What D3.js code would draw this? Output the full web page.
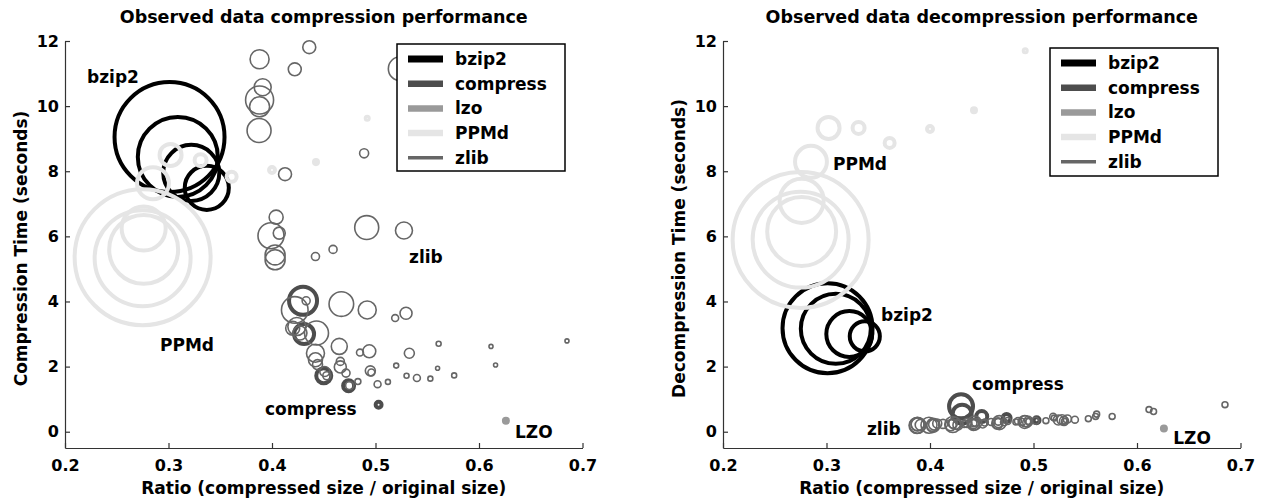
<!DOCTYPE html>
<html>
<head>
<meta charset="utf-8">
<script src="https://cdn.jsdelivr.net/npm/d3@7"></script>
<style>
  body { margin: 0; background: #fff; }
  svg text { font-family: "DejaVu Sans", sans-serif; font-weight: bold; fill: #000; }
</style>
</head>
<body>
<svg id="chart" width="1261" height="500"></svg>
<script>
// ---- data (ratio, seconds, memory in MB) ----
const tools = ['bzip2', 'compress', 'lzo', 'PPMd', 'zlib'];
const xTicks = [0.2, 0.3, 0.4, 0.5, 0.6, 0.7];
const yTicks = [0, 2, 4, 6, 8, 10, 12];

const bzip2Ratio = [0.301, 0.309, 0.322, 0.337];
const bzip2Comp = [9.05, 8.44, 7.95, 7.49];
const bzip2Decomp = [3.18, 3.16, 3.0, 2.93];
const bzip2CompMem = [65.4, 34.6, 17, 10.5];
const bzip2DecompMem = [43.8, 26.5, 11.4, 4.9];

const compressRatio = [0.43, 0.431, 0.45, 0.474, 0.503];
const compressComp = [4.02, 3.0, 1.72, 1.41, 0.83];
const compressDecomp = [0.78, 0.54, 0.47, 0.42, 0.35];
const compressCompMem = [4.24, 2.16, 1.22, 0.65, 0.19];
const compressDecompMem = [3.11, 1.95, 0.65, 0.35, 0.19];

const lzoRatio = [0.626];
const lzoComp = [0.34];
const lzoDecomp = [0.1];
const lzoCompMem = [0.087];
const lzoDecompMem = [0.087];

const ppmdRatio = [0.275, 0.275, 0.276, 0.276, 0.285, 0.302, 0.331, 0.361, 0.40, 0.4425, 0.492];
const ppmdComp = [5.36, 5.33, 5.6, 6.24, 7.63, 8.5, 8.34, 7.83, 8.04, 8.28, 9.63];
const ppmdDecomp = [5.89, 5.9, 6.15, 7.09, 8.29, 9.33, 9.33, 8.87, 9.3, 9.87, 11.7];
const ppmdCompMem = [100, 49.8, 25.7, 10.5, 5.5, 2.62, 0.78, 0.54, 0.19, 0.087, 0.049];
const ppmdDecompMem = [100, 49.8, 25.7, 10.5, 5.5, 2.62, 0.78, 0.54, 0.19, 0.087, 0.049];

const zlibRatio = [0.388, 0.436, 0.422, 0.391, 0.388, 0.388, 0.3875, 0.524, 0.489, 0.4126,
  0.404, 0.399, 0.407, 0.403, 0.403, 0.442, 0.459, 0.4915, 0.5275, 0.433,
  0.422, 0.467, 0.492, 0.5295, 0.519, 0.424, 0.42, 0.443, 0.427, 0.465,
  0.494, 0.485, 0.5327, 0.561, 0.442, 0.442, 0.444, 0.466, 0.466, 0.495,
  0.496, 0.52, 0.53, 0.54, 0.553, 0.56, 0.502, 0.512, 0.483, 0.4715,
  0.475, 0.453, 0.6116, 0.685, 0.616, 0.576, 0.451];
const zlibComp = [11.44, 11.81, 11.13, 10.58, 10.19, 9.98, 9.25, 11.15, 8.55, 7.91,
  6.59, 6.02, 6.1, 5.43, 5.28, 5.38, 5.6, 6.27, 6.18, 4.02,
  3.74, 3.92, 3.74, 3.64, 3.49, 3.23, 3.18, 3.03, 3.03, 2.62,
  2.47, 2.43, 2.41, 2.7, 2.41, 2.21, 2.06, 2.16, 1.99, 1.87,
  1.82, 2.03, 1.72, 1.65, 1.63, 1.95, 1.46, 1.53, 1.54, 1.8,
  1.42, 1.72, 2.62, 2.79, 2.05, 1.73, 1.85];
const zlibDecomp = [0.22, 0.27, 0.25, 0.21, 0.2, 0.23, 0.19, 0.36, 0.3, 0.24,
  0.22, 0.2, 0.25, 0.18, 0.21, 0.26, 0.3, 0.3, 0.37, 0.24,
  0.22, 0.28, 0.32, 0.33, 0.46, 0.26, 0.2, 0.27, 0.21, 0.25,
  0.28, 0.33, 0.39, 0.54, 0.22, 0.25, 0.29, 0.31, 0.27, 0.35,
  0.31, 0.42, 0.32, 0.37, 0.40, 0.47, 0.34, 0.34, 0.30, 0.29,
  0.33, 0.28, 0.68, 0.83, 0.62, 0.47, 0.24];
const zlibCompMem = [1.95, 0.91, 0.91, 1.56, 4.24, 2.16, 3.11, 3.11, 0.44, 0.91,
  1.06, 3.65, 0.78, 2.16, 2.16, 0.35, 0.35, 3.11, 1.56, 0.35,
  3.83, 3.27, 1.75, 0.78, 0.26, 1.75, 1.06, 3.11, 1.06, 1.38,
  0.91, 0.26, 0.54, 0.135, 1.75, 1.06, 0.54, 0.35, 0.78, 0.54,
  0.26, 0.135, 0.135, 0.26, 0.135, 0.087, 0.26, 0.135, 0.19, 0.35,
  0.35, 0.35, 0.087, 0.087, 0.087, 0.135, 0.54];
const zlibDecompMem = [0.91, 0.44, 0.44, 0.65, 1.38, 0.91, 1.38, 0.54, 0.26, 0.44,
  0.65, 1.38, 0.44, 0.91, 0.91, 0.26, 0.26, 0.91, 0.54, 0.26,
  1.38, 1.06, 0.65, 0.44, 0.26, 0.78, 0.65, 1.06, 0.54, 0.65,
  0.44, 0.26, 0.35, 0.19, 0.78, 0.54, 0.35, 0.26, 0.44, 0.35,
  0.26, 0.19, 0.19, 0.26, 0.19, 0.19, 0.26, 0.19, 0.19, 0.26,
  0.26, 0.26, 0.19, 0.19, 0.19, 0.19, 0.35];

// text labels placed in data units
const compLabels = [
  {text: 'bzip2', ratio: 0.2213, time: 10.71},
  {text: 'PPMd', ratio: 0.2918, time: 2.49},
  {text: 'zlib', ratio: 0.5324, time: 5.19},
  {text: 'compress', ratio: 0.3932, time: 0.52},
  {text: 'LZO', ratio: 0.6348, time: -0.18}
];
const decompLabels = [
  {text: 'PPMd', ratio: 0.3063, time: 8.04},
  {text: 'bzip2', ratio: 0.3527, time: 3.39},
  {text: 'compress', ratio: 0.4406, time: 1.27},
  {text: 'zlib', ratio: 0.3391, time: -0.09},
  {text: 'LZO', ratio: 0.635, time: -0.37}
];

// ---- assemble ----
const raw = {
  bzip2: [bzip2Ratio, bzip2Comp, bzip2Decomp, bzip2CompMem, bzip2DecompMem],
  compress: [compressRatio, compressComp, compressDecomp, compressCompMem, compressDecompMem],
  lzo: [lzoRatio, lzoComp, lzoDecomp, lzoCompMem, lzoDecompMem],
  PPMd: [ppmdRatio, ppmdComp, ppmdDecomp, ppmdCompMem, ppmdDecompMem],
  zlib: [zlibRatio, zlibComp, zlibDecomp, zlibCompMem, zlibDecompMem]
};
const series = tools.map(name => {
  const [ratio, comp, decomp, compMem, decompMem] = raw[name];
  return {
    name,
    points: ratio.map((r, i) => ({ratio: r, comp: comp[i], decomp: decomp[i], compMem: compMem[i], decompMem: decompMem[i]}))
  };
});

const styles = {
  bzip2: {color: '#000000', width: 4, legendWidth: 7},
  compress: {color: '#4d4d4d', width: 4, legendWidth: 6.5},
  lzo: {color: '#9a9a9a', width: 4, legendWidth: 6.5},
  PPMd: {color: '#e5e5e5', width: 4, legendWidth: 6.5},
  zlib: {color: '#666666', width: 1.6, legendWidth: 3.5}
};

const panels = [
  {title: 'Observed data compression performance', yLabel: 'Compression Time (seconds)',
   key: 'comp', mem: 'compMem', labels: compLabels, left: 65, yLabelX: 27, legendDx: 332, legendY: 44, legendH: 127},
  {title: 'Observed data decompression performance', yLabel: 'Decompression Time (seconds)',
   key: 'decomp', mem: 'decompMem', labels: decompLabels, left: 723, yLabelX: 685, legendDx: 327, legendY: 48, legendH: 128}
];

const svg = d3.select('#chart');
const plotW = 517.5, plotTop = 41, plotBottom = 448;
const rScale = d3.scaleSqrt().domain([0, 100]).range([0, 68]);

panels.forEach(p => {
  const x = d3.scaleLinear().domain([0.2, 0.7]).range([p.left, p.left + plotW]);
  const y = d3.scaleLinear().domain([-0.5, 12]).range([plotBottom, plotTop]);
  const g = svg.append('g');

  // axes
  const gx = g.append('g')
    .attr('transform', `translate(0,${plotBottom})`)
    .call(d3.axisBottom(x).tickValues(xTicks).tickFormat(d3.format('.1f'))
      .tickSizeInner(-5).tickSizeOuter(0).tickPadding(12));
  const gy = g.append('g')
    .attr('transform', `translate(${p.left},0)`)
    .call(d3.axisLeft(y).tickValues(yTicks).tickSizeInner(-5).tickSizeOuter(0).tickPadding(6));
  [gx, gy].forEach(a => {
    a.attr('font-size', 16).attr('font-family', null);
    a.selectAll('path,line').attr('stroke', '#333').attr('stroke-width', 1.2);
  });

  // bubbles
  series.forEach(s => {
    const st = styles[s.name];
    g.append('g').selectAll('circle')
      .data(s.points)
      .join('circle')
      .attr('cx', d => x(d.ratio))
      .attr('cy', d => y(d[p.key]))
      .attr('r', d => rScale(d[p.mem]))
      .attr('fill', 'none')
      .attr('stroke', st.color)
      .attr('stroke-width', st.width);
  });

  // annotations
  g.append('g').selectAll('text')
    .data(p.labels)
    .join('text')
    .attr('x', d => x(d.ratio))
    .attr('y', d => y(d.time))
    .attr('font-size', 17)
    .text(d => d.text);

  // titles
  const cx = p.left + plotW / 2;
  g.append('text').attr('x', cx).attr('y', 23).attr('text-anchor', 'middle')
    .attr('font-size', 17.5).text(p.title);
  g.append('text').attr('x', cx).attr('y', 494).attr('text-anchor', 'middle')
    .attr('font-size', 17).text('Ratio (compressed size / original size)');
  g.append('text')
    .attr('transform', `translate(${p.yLabelX},${(plotTop + plotBottom) / 2 + 4}) rotate(-90)`)
    .attr('text-anchor', 'middle').attr('font-size', 17).text(p.yLabel);

  // legend
  const lx = p.left + p.legendDx, ly = p.legendY;
  const lg = g.append('g');
  lg.append('rect').attr('x', lx).attr('y', ly).attr('width', 168).attr('height', p.legendH)
    .attr('fill', '#fff').attr('stroke', '#000').attr('stroke-width', 1.5);
  const rows = lg.selectAll('g.row').data(tools).join('g')
    .attr('transform', (d, i) => `translate(${lx},${ly + 15 + i * 24.7})`);
  rows.append('line').attr('x1', 11).attr('x2', 46)
    .attr('stroke', d => styles[d].color).attr('stroke-width', d => styles[d].legendWidth);
  rows.append('text').attr('x', 58).attr('y', 6).attr('font-size', 17).text(d => d);
});
</script>
</body>
</html>
